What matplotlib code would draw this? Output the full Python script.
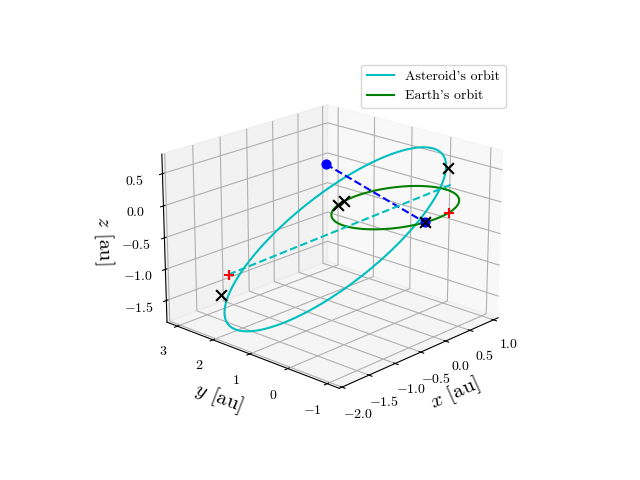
import numpy as np
import matplotlib
matplotlib.use("Agg")
import matplotlib.pyplot as plt

plt.rcParams.update({"font.family": "serif", "font.serif": ["cmr10"],
                     "mathtext.fontset": "cm", "axes.formatter.use_mathtext": True})

# asteroid orbit elements (centre, semi-axis vectors) in au
ast_center = [-0.45, 1.0, -0.55]
ast_u = [1.05, -1.5, 1.1]
ast_v = [0.7, 0.85, 0.55]
earth_r = 1.0
blue_pts = [[-0.1, 1.7, 0.4], [-0.2, -0.98, 0.0]]
red_pts = [[-1.45, 2.45, -1.1], [0.3, -0.95, 0.0]]
black_pts = [[-1.5, 2.6, -1.45], [-0.3, 0.95, 0.0], [-0.45, 0.9, 0.0], [0.55, -0.6, 0.55], [-0.2, -0.98, 0.0]]
cyan_line = [[-1.45, 2.45, -1.1], [0.6, -0.65, 0.3]]

t = np.linspace(0, 2*np.pi, 400)
c, u, v = map(np.array, (ast_center, ast_u, ast_v))
ast = c[:, None] + u[:, None]*np.cos(t) + v[:, None]*np.sin(t)

fig = plt.figure(figsize=(6.4, 4.8), dpi=100)
ax = fig.add_subplot(projection="3d")
ax.plot(*ast, color="c", label="Asteroid's orbit")
ax.plot(earth_r*np.cos(t), earth_r*np.sin(t), 0*t, color="g", label="Earth's orbit")
ax.plot(*np.array(blue_pts).T, "b--")
ax.plot(*np.array(cyan_line).T, "c--")
ax.scatter(*np.array(blue_pts).T, color="b", s=40, depthshade=False)
ax.scatter(*np.array(red_pts).T, color="r", marker="+", s=60, depthshade=False)
ax.scatter(*np.array(black_pts).T, color="k", marker="x", s=60, depthshade=False)
ax.set_xlabel(r"$x$ [au]", fontsize=15)
ax.set_ylabel(r"$y$ [au]", fontsize=15)
ax.set_zlabel(r"$z$ [au]", fontsize=15)
ax.set_xticks([-2.0, -1.5, -1.0, -0.5, 0.0, 0.5, 1.0])
ax.set_yticks([-1, 0, 1, 2, 3])
ax.set_zticks([-1.5, -1.0, -0.5, 0.0, 0.5])
ax.set_xlim(-2.05, 1.1)
ax.set_ylim(-1.3, 3.3)
ax.set_zlim(-1.85, 0.8)
ax.view_init(elev=20, azim=-137)
ax.legend(loc="upper right")
fig.savefig("out.png")
